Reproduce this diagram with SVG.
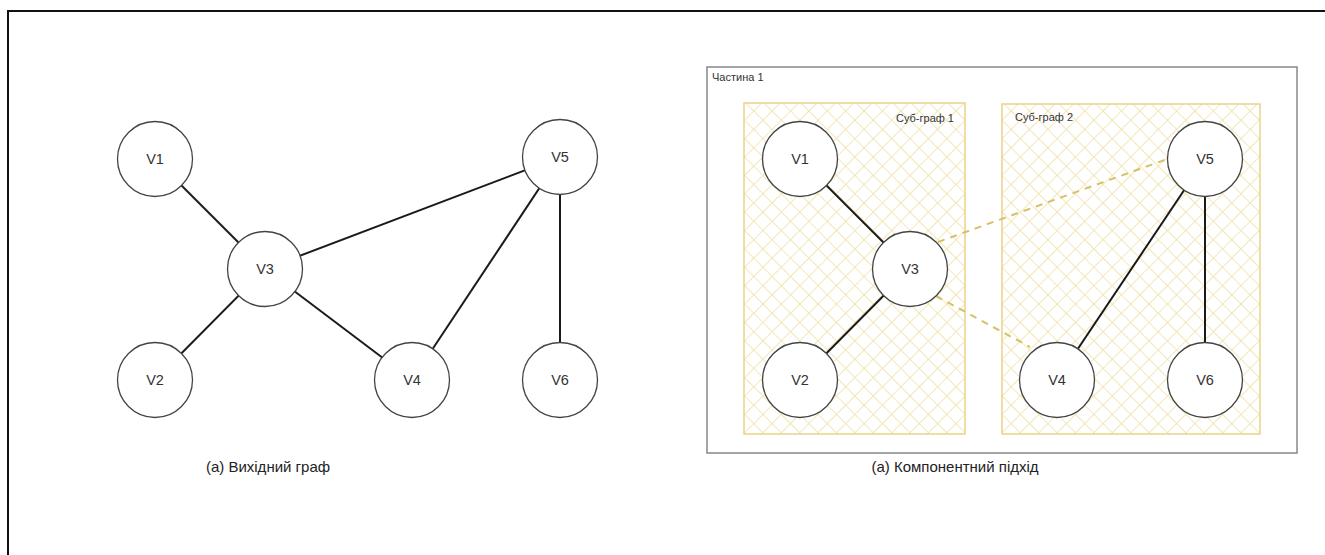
<svg xmlns="http://www.w3.org/2000/svg" width="1325" height="555" viewBox="0 0 1325 555">
  <style>
    .node circle { fill: #ffffff; stroke: #444444; stroke-width: 1.3; }
    .node text { font-family: "Liberation Sans", Arial, sans-serif; font-size: 14.5px; fill: #333333; text-anchor: middle; dominant-baseline: central; }
    .edge { stroke: #1a1a1a; stroke-width: 2; fill: none; }
    .cut { stroke: #d6c06a; stroke-width: 2; stroke-dasharray: 7 6; fill: none; }
    .caption { font-family: "Liberation Sans", Arial, sans-serif; font-size: 15px; fill: #222222; text-anchor: middle; }
    .small { font-family: "Liberation Sans", Arial, sans-serif; font-size: 11px; fill: #333333; }
    .sub { fill: url(#hatch); stroke: #e8d48c; stroke-width: 1.5; }
  </style>
  <defs>
    <pattern id="hatch" patternUnits="userSpaceOnUse" width="13" height="13" patternTransform="rotate(45)">
      <rect width="13" height="13" fill="#ffffff"/>
      <line x1="0" y1="0" x2="0" y2="13" stroke="#f1e1a6" stroke-width="1.6"/>
      <line x1="0" y1="0" x2="13" y2="0" stroke="#f1e1a6" stroke-width="1.6"/>
    </pattern>
  </defs>

  <rect width="1325" height="555" fill="#ffffff"/>

  <!-- outer frame (top and left edges) -->
  <g id="frame">
    <line x1="7" y1="11" x2="1325" y2="11" stroke="#111111" stroke-width="2"/>
    <line x1="8" y1="10" x2="8" y2="555" stroke="#111111" stroke-width="2"/>
  </g>

  <!-- partition containers -->
  <g id="part1">
    <rect x="707" y="67" width="590" height="386" fill="none" stroke="#888888" stroke-width="1.5"/>
    <text class="small" x="712" y="81">Частина 1</text>
  </g>
  <g id="subgraph1">
    <rect class="sub" x="744" y="103" width="221" height="331"/>
    <text class="small" x="954" y="122" text-anchor="end">Суб-граф 1</text>
  </g>
  <g id="subgraph2">
    <rect class="sub" x="1002" y="104" width="258" height="330"/>
    <text class="small" x="1015" y="121">Суб-граф 2</text>
  </g>

  <!-- connectors -->
  <g id="connectors">
    <!-- original graph -->
    <line class="edge" x1="155" y1="159" x2="265" y2="269"/>
    <line class="edge" x1="265" y1="269" x2="155" y2="380"/>
    <line class="edge" x1="265" y1="269" x2="412" y2="380"/>
    <line class="edge" x1="265" y1="269" x2="560" y2="157"/>
    <line class="edge" x1="412" y1="380" x2="560" y2="157"/>
    <line class="edge" x1="560" y1="157" x2="560" y2="380"/>
    <!-- component approach -->
    <line class="edge" x1="800" y1="159" x2="910" y2="269"/>
    <line class="edge" x1="910" y1="269" x2="800" y2="380"/>
    <line class="edge" x1="1057" y1="380" x2="1205" y2="159"/>
    <line class="edge" x1="1205" y1="159" x2="1205" y2="380"/>
    <line class="cut" x1="938" y1="242" x2="1170" y2="158"/>
    <line class="cut" x1="936" y1="296" x2="1030" y2="347"/>
  </g>

  <!-- original graph nodes -->
  <g id="a-V1" class="node"><circle cx="155" cy="159" r="37.5"/><text x="155" y="159">V1</text></g>
  <g id="a-V3" class="node"><circle cx="265" cy="269" r="37.5"/><text x="265" y="269">V3</text></g>
  <g id="a-V2" class="node"><circle cx="155" cy="380" r="37.5"/><text x="155" y="380">V2</text></g>
  <g id="a-V4" class="node"><circle cx="412" cy="380" r="37.5"/><text x="412" y="380">V4</text></g>
  <g id="a-V5" class="node"><circle cx="560" cy="157" r="37.5"/><text x="560" y="157">V5</text></g>
  <g id="a-V6" class="node"><circle cx="560" cy="380" r="37.5"/><text x="560" y="380">V6</text></g>

  <!-- component approach nodes -->
  <g id="b-V1" class="node"><circle cx="800" cy="159" r="37.5"/><text x="800" y="159">V1</text></g>
  <g id="b-V3" class="node"><circle cx="910" cy="269" r="37.5"/><text x="910" y="269">V3</text></g>
  <g id="b-V2" class="node"><circle cx="800" cy="380" r="37.5"/><text x="800" y="380">V2</text></g>
  <g id="b-V4" class="node"><circle cx="1057" cy="380" r="37.5"/><text x="1057" y="380">V4</text></g>
  <g id="b-V5" class="node"><circle cx="1205" cy="159" r="37.5"/><text x="1205" y="159">V5</text></g>
  <g id="b-V6" class="node"><circle cx="1205" cy="380" r="37.5"/><text x="1205" y="380">V6</text></g>

  <!-- captions -->
  <g id="captions">
    <text class="caption" x="268" y="472">(а) Вихідний граф</text>
    <text class="caption" x="955" y="472">(а) Компонентний підхід</text>
  </g>
</svg>
